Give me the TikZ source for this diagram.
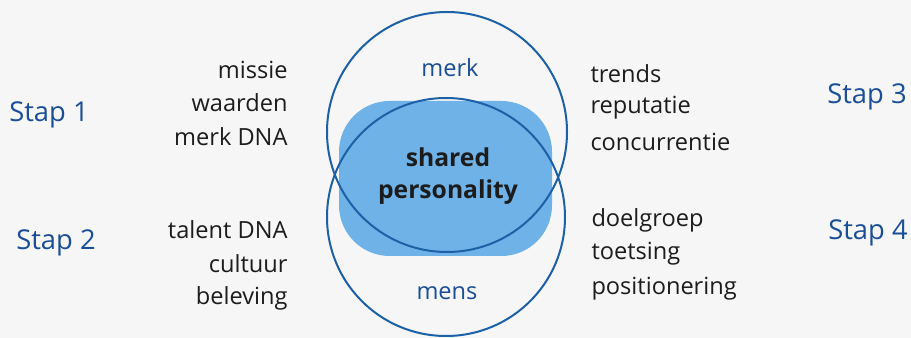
\documentclass[tikz,border=0pt]{standalone}
\usepackage{fontspec}
\setmainfont{Open Sans}
\usepackage{tikz}
\definecolor{ringblue}{RGB}{28,96,168}
\definecolor{fillblue}{RGB}{110,178,232}
\definecolor{stapblue}{RGB}{26,78,150}
\definecolor{inkgrey}{RGB}{28,28,28}
\definecolor{paper}{RGB}{246,246,246}
\tikzset{every picture/.style={line width=0.75pt}}
\tikzset{
word/.style={text=inkgrey, font=\fontsize{17.7}{20}\selectfont, inner sep=0pt},
stapword/.style={text=stapblue, font=\fontsize{20.5}{22}\selectfont, inner sep=0pt},
ringword/.style={text=stapblue, font=\fontsize{17.7}{20}\selectfont, inner sep=0pt}}

\begin{document}
\begin{tikzpicture}[x=0.75pt,y=0.75pt,yscale=-1,xscale=1]
%uncomment if require: \path (0,338); %set diagram left start at 0, and has height of 338
\fill[paper] (0,0) rectangle (911,338) ;
\useasboundingbox (0,0) rectangle (911,338) ;

%Shape: Rounded Rect [id:shared]
\fill[fillblue, rounded corners=38] (339,101) rectangle (552,256) ;
%Shape: Circle [id:merk]
\draw[ringblue, line width=1.5pt] (447,132) circle (120) ;
%Shape: Circle [id:mens]
\draw[ringblue, line width=1.5pt] (446,217) circle (119) ;

% Text in the rings
\node[ringword] (merk) at (450,68) {merk} ;
\node[ringword] (mens) at (447,293) {mens} ;
\node[text=inkgrey, font=\fontsize{18.5}{24}\selectfont\bfseries, align=center, inner sep=0pt] (shared) at (448,176) {shared\\personality} ;

% Left side
\node[stapword] (stap1) at (49,115) {Stap 1} ;
\node[stapword] (stap2) at (56,243) {Stap 2} ;
\node[word, anchor=east] (missie) at (288,70) {missie} ;
\node[word, anchor=east] (waarden) at (288,103) {waarden} ;
\node[word, anchor=east] (merkdna) at (288,137) {merk DNA} ;
\node[word, anchor=east] (talentdna) at (288,230) {talent DNA} ;
\node[word, anchor=east] (cultuur) at (288,264) {cultuur} ;
\node[word, anchor=east] (beleving) at (288,298) {beleving} ;

% Right side
\node[stapword] (stap3) at (867,97) {Stap 3} ;
\node[stapword] (stap4) at (868,233) {Stap 4} ;
\node[word, anchor=west] (trends) at (590,74) {trends} ;
\node[word, anchor=west] (reputatie) at (590,108) {reputatie} ;
\node[word, anchor=west] (concurrentie) at (590,142) {concurrentie} ;
\node[word, anchor=west] (doelgroep) at (591,220) {doelgroep} ;
\node[word, anchor=west] (toetsing) at (591,254) {toetsing} ;
\node[word, anchor=west] (positionering) at (591,289) {positionering} ;

\end{tikzpicture}
\end{document}
